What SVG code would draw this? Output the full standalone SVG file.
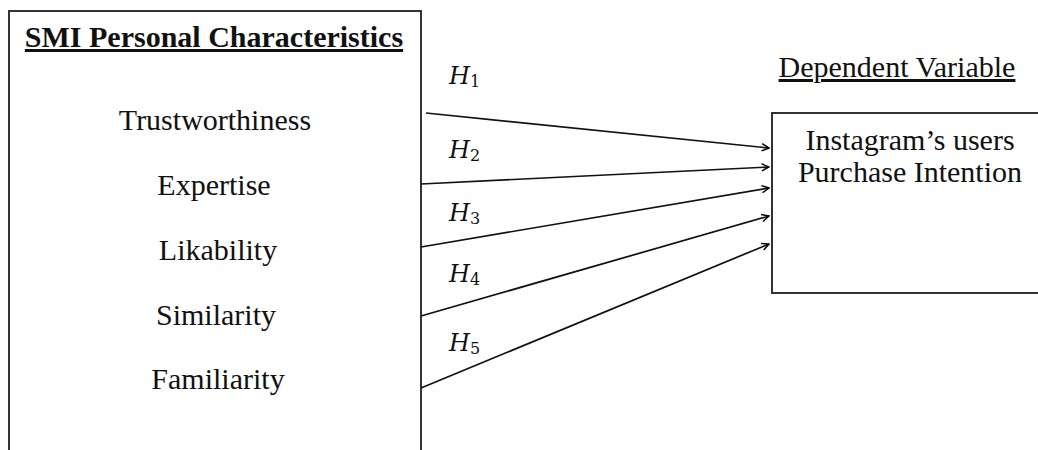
<svg xmlns="http://www.w3.org/2000/svg" width="1038" height="450" viewBox="0 0 1038 450">
<defs>
<marker id="arr" viewBox="0 0 10 10" refX="9" refY="5" markerWidth="9" markerHeight="9" markerUnits="userSpaceOnUse" orient="auto">
<path d="M1,1 L9,5 L1,9" fill="none" stroke="#000" stroke-width="1.6"/>
</marker>
<style>
.box{fill:#fff;stroke:#333;stroke-width:2}
.t{font-family:"Liberation Serif","Times New Roman",serif;font-size:30px;fill:#111;text-anchor:middle}
.b{font-weight:bold}
.u{text-decoration:underline}
.h{font-family:"DejaVu Serif","Liberation Serif",serif;font-style:italic;font-size:24px;fill:#111}
.s{font-style:normal;font-size:16px}
.c{fill:none;stroke:#111;stroke-width:1.7;marker-end:url(#arr)}
</style>
</defs>
<rect width="1038" height="450" fill="#fff"/>
<g id="node-smi">
<rect class="box" x="9" y="11" width="412" height="460"/>
<text class="t b u" x="214" y="47">SMI Personal Characteristics</text>
<text class="t" x="215" y="130">Trustworthiness</text>
<text class="t" x="214" y="195">Expertise</text>
<text class="t" x="218" y="260">Likability</text>
<text class="t" x="216" y="325">Similarity</text>
<text class="t" x="218" y="389">Familiarity</text>
</g>
<g id="node-dv-label">
<text class="t u" x="897" y="77">Dependent Variable</text>
</g>
<g id="node-pi">
<rect class="box" x="772" y="113" width="290" height="180"/>
<text class="t" x="910" y="150">Instagram’s users</text>
<text class="t" x="910" y="182">Purchase Intention</text>
</g>
<g id="connectors">
<line class="c" x1="426" y1="113" x2="769" y2="148"/>
<line class="c" x1="421" y1="184" x2="769" y2="167"/>
<line class="c" x1="421" y1="247" x2="769" y2="188"/>
<line class="c" x1="421" y1="316" x2="769" y2="216"/>
<line class="c" x1="421" y1="388" x2="769" y2="244"/>
</g>
<g id="labels">
<text class="h" x="449" y="84">H<tspan class="s" dy="3">1</tspan></text>
<text class="h" x="449" y="158">H<tspan class="s" dy="3">2</tspan></text>
<text class="h" x="449" y="221">H<tspan class="s" dy="3">3</tspan></text>
<text class="h" x="449" y="282">H<tspan class="s" dy="3">4</tspan></text>
<text class="h" x="449" y="351">H<tspan class="s" dy="3">5</tspan></text>
</g>
</svg>
